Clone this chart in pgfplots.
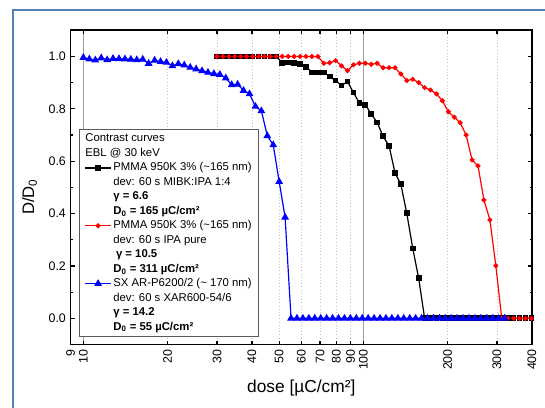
\documentclass[border=0pt]{standalone}
\usepackage{fontspec}
\setmainfont{Liberation Sans}
\usepackage{pgfplots}
\usepackage{pgfplotstable}
\pgfplotsset{compat=1.18}
\definecolor{framebl}{RGB}{84,128,190}

% dose [uC/cm2]  D/D0
\pgfplotstableread{
x y
30.00 1.0
31.50 1.0
33.08 1.0
34.73 1.0
36.47 1.0
38.29 1.0
40.20 1.0
42.21 1.0
44.32 1.0
46.54 1.0
48.87 1.0
51.31 0.976
53.88 0.977
56.57 0.976
59.40 0.970
62.37 0.961
65.49 0.939
68.76 0.939
72.20 0.939
75.81 0.923
79.60 0.908
83.58 0.889
87.76 0.904
92.15 0.862
96.76 0.822
101.6 0.816
106.7 0.780
112.0 0.748
117.6 0.695
123.5 0.659
129.7 0.555
136.1 0.512
142.9 0.401
150.1 0.267
157.6 0.153
165.5 0
173.7 0
182.4 0
191.5 0
201.1 0
211.2 0
221.7 0
232.8 0
244.5 0
256.7 0
269.5 0
283.0 0
297.2 0
312.0 0
327.6 0
344.0 0
361.2 0
379.3 0
398.2 0
}\pmmamibk

\pgfplotstableread{
x y
30.00 1.0
31.50 1.0
33.08 1.0
34.73 1.0
36.47 1.0
38.29 1.0
40.20 1.0
42.21 1.0
44.32 1.0
46.54 1.0
48.87 1.0
51.31 1.0
53.88 1.0
56.57 1.0
59.40 1.0
62.37 1.0
65.49 1.0
68.76 1.0
72.20 0.974
75.81 0.976
79.60 0.984
83.58 0.964
87.76 0.946
92.15 0.968
96.76 0.974
101.6 0.974
106.7 0.970
112.0 0.974
117.6 0.957
123.5 0.957
129.7 0.957
136.1 0.933
142.9 0.908
150.1 0.913
157.6 0.900
165.5 0.881
173.7 0.872
182.4 0.857
191.5 0.831
201.1 0.789
211.2 0.768
221.7 0.747
232.8 0.700
244.5 0.605
256.7 0.582
269.5 0.452
283.0 0.376
297.2 0.201
312.0 0
327.6 0
344.0 0
361.2 0
379.3 0
398.2 0
}\pmmaipa

\pgfplotstableread{
x y
10.00 0.996
10.50 0.990
11.03 0.986
11.58 0.994
12.16 0.987
12.76 0.992
13.40 0.991
14.07 0.990
14.77 0.989
15.51 0.987
16.29 0.989
17.10 0.973
17.96 0.985
18.86 0.980
19.80 0.977
20.79 0.964
21.83 0.972
22.92 0.967
24.07 0.958
25.27 0.952
26.53 0.945
27.86 0.939
29.25 0.934
30.71 0.931
32.25 0.917
33.86 0.892
35.56 0.893
37.33 0.870
39.20 0.857
41.16 0.809
43.22 0.792
45.38 0.697
47.65 0.662
50.03 0.522
52.53 0.386
55.16 0
57.92 0
60.81 0
63.85 0
67.04 0
70.40 0
73.92 0
77.61 0
81.49 0
85.57 0
89.85 0
94.34 0
99.06 0
104.0 0
109.2 0
114.7 0
120.4 0
126.4 0
132.8 0
139.4 0
146.4 0
153.7 0
161.4 0
169.4 0
177.9 0
186.8 0
196.1 0
205.9 0
216.2 0
227.0 0
238.4 0
250.3 0
262.8 0
276.0 0
289.8 0
304.3 0
319.5 0
}\sxar

\begin{document}
\begin{tikzpicture}
\begin{axis}[
    xmode=log,
    scale only axis,
    width=346pt,
    height=235.7pt,
    xmin=9, xmax=400,
    ymin=-0.1, ymax=1.1,
    xtick={9,20,30,40,50,60,70,80,90,200,300,400},
    xticklabels={9,20,30,40,50,60,70,80,90,200,300,400},
    minor xtick={},
    extra x ticks={10,100},
    extra x tick labels={10,100},
    extra x tick style={grid=major, major grid style={solid, gray!75, line width=0.8pt}},
    xmajorgrids=true,
    major grid style={dotted, gray!50, line width=0.6pt},
    ytick={0,0.2,0.4,0.6,0.8,1.0},
    minor ytick={0.1,0.3,0.5,0.7,0.9},
    yticklabel style={/pgf/number format/.cd, fixed, fixed zerofill, precision=1, assume math mode=true},
    tick label style={font=\fontsize{9.3}{10}\selectfont},
    xticklabel style={rotate=90, anchor=east},
    major tick length=3pt,
    minor tick length=1.6pt,
    every tick/.style={black, line width=0.9pt},
    axis line style={line width=1.2pt},
    xlabel={dose [µC/cm²]},
    ylabel={D/D\textsubscript{0}},
    xlabel style={font=\fontsize{13}{14}\selectfont, at={(axis description cs:0.5,-0.138)}, anchor=center},
    ylabel style={font=\fontsize{12.5}{14}\selectfont, at={(axis description cs:-0.089,0.47)}, anchor=center},
    legend cell align=left,
    legend image code/.code={\draw[mark repeat=2, mark phase=2] plot coordinates {(0cm,0cm) (0.35cm,0cm) (0.7cm,0cm)};},
    legend style={at={(axis description cs:0.0173,0.0248)}, anchor=south west,
        draw=gray!70!black, line width=0.5pt, fill=white,
        font=\fontsize{8.5}{10}\selectfont,
        inner xsep=4pt, inner ysep=2pt, row sep=0.85pt,
        nodes={inner xsep=1pt, inner ysep=0.8pt, text height=6.4pt, text depth=2pt}},
]
\addlegendimage{empty legend}\addlegendentry{\hspace*{-21pt}Contrast curves}
\addlegendimage{empty legend}\addlegendentry{\hspace*{-21pt}EBL @ 30 keV}
\addplot[black, line width=0.9pt, mark=square*, mark size=1.7pt, mark options={solid}] table[x=x, y=y] {\pmmamibk};
\addlegendentry{PMMA 950K 3\% (\textasciitilde165 nm)}
\addlegendimage{empty legend}\addlegendentry{dev: 60 s MIBK:IPA 1:4}
\addlegendimage{empty legend}\addlegendentry{\textbf{γ = 6.6}}
\addlegendimage{empty legend}\addlegendentry{\textbf{D\textsubscript{0} = 165 µC/cm²}}
\addplot[red, line width=0.9pt, mark=*, mark size=1.4pt, mark options={solid}] table[x=x, y=y] {\pmmaipa};
\addlegendentry{PMMA 950K 3\% (\textasciitilde165 nm)}
\addlegendimage{empty legend}\addlegendentry{dev: 60 s IPA pure}
\addlegendimage{empty legend}\addlegendentry{\hspace*{2pt}\textbf{γ = 10.5}}
\addlegendimage{empty legend}\addlegendentry{\textbf{D\textsubscript{0} = 311 µC/cm²}}
\addplot[blue, line width=0.9pt, mark=triangle*, mark size=2.5pt, mark options={solid}] table[x=x, y=y] {\sxar};
\addlegendentry{SX AR-P6200/2 (\textasciitilde{} 170 nm)}
\addlegendimage{empty legend}\addlegendentry{dev: 60 s XAR600-54/6}
\addlegendimage{empty legend}\addlegendentry{\textbf{γ = 14.2}}
\addlegendimage{empty legend}\addlegendentry{\textbf{D\textsubscript{0} = 55 µC/cm²}}
\end{axis}
\draw[framebl, line width=1.6pt] (-43.2pt,-80pt) rectangle (400pt,250.9pt);
\pgfresetboundingbox
\useasboundingbox (-52.95pt,-46.9pt) rectangle (355.8pt,258.4pt);
\end{tikzpicture}
\end{document}
